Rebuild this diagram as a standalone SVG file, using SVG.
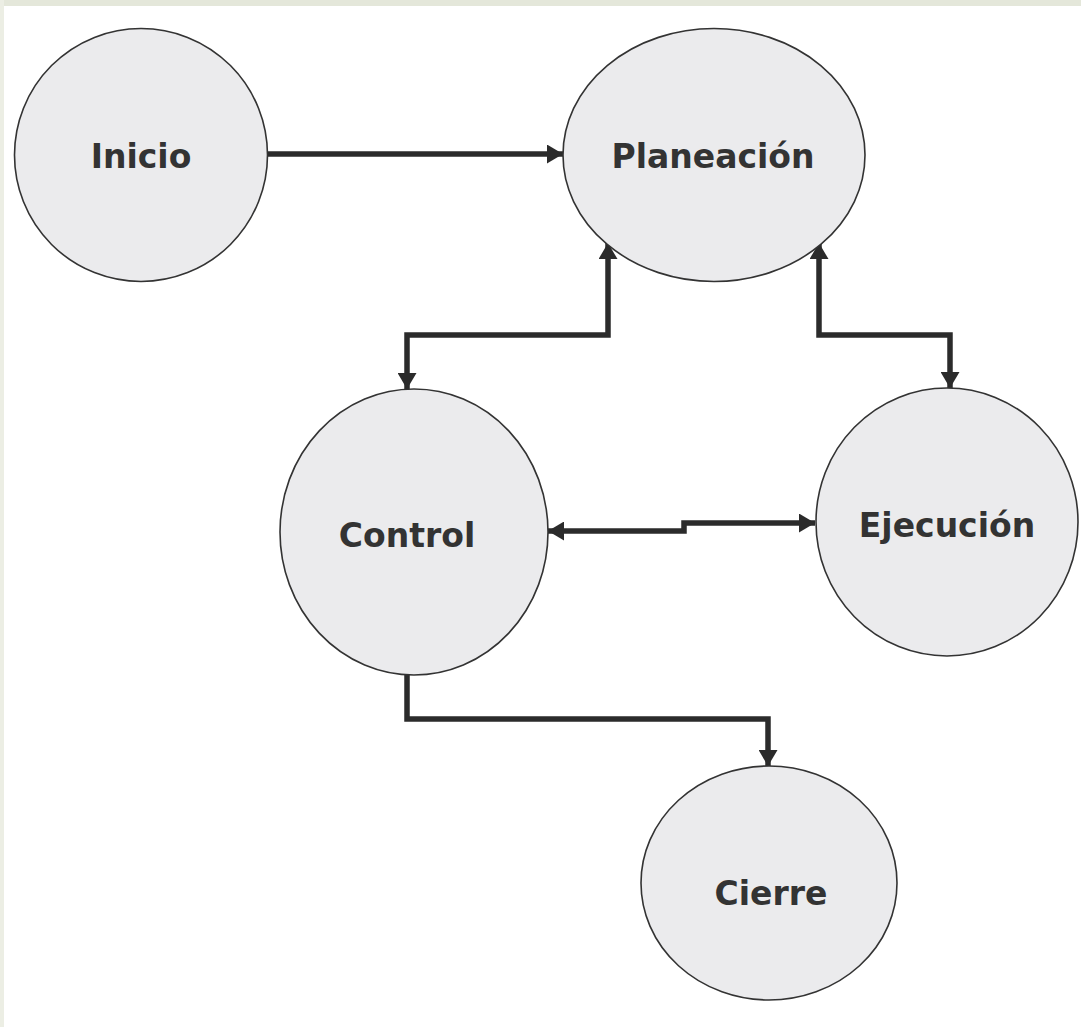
<svg xmlns="http://www.w3.org/2000/svg" width="1081" height="1027" viewBox="0 0 1081 1027">
<defs>
<style>
.node{fill:#ebebed;stroke:#333;stroke-width:1.6}
.lbl{font-family:"DejaVu Sans",Verdana,sans-serif;font-weight:bold;font-size:33px;fill:#333;text-anchor:middle}
.con{fill:none;stroke:#2b2b2b;stroke-width:5.5;stroke-linejoin:miter;stroke-linecap:butt}
</style>
<marker id="ah" viewBox="0 0 16 19" refX="16" refY="9.5" markerWidth="16" markerHeight="19" markerUnits="userSpaceOnUse" orient="auto-start-reverse">
<path d="M0,0 L16,9.5 L0,19 Z" fill="#2b2b2b"/>
</marker>
</defs>
<rect x="0" y="0" width="1081" height="1027" fill="#ffffff"/>
<rect x="0" y="0" width="1081" height="6" fill="#e4e7da"/>
<rect x="0" y="0" width="4" height="1027" fill="#eceee4"/>
<g id="connectors">
<path class="con" d="M267,154 H563" marker-end="url(#ah)"/>
<path class="con" d="M608,243 V335 H407 V389" marker-start="url(#ah)" marker-end="url(#ah)"/>
<path class="con" d="M819,243 V335 H950 V388" marker-start="url(#ah)" marker-end="url(#ah)"/>
<path class="con" d="M548,531 H684 V523 H815" marker-start="url(#ah)" marker-end="url(#ah)"/>
<path class="con" d="M407,675 V719 H768 V766" marker-end="url(#ah)"/>
</g>
<g id="inicio">
<ellipse class="node" cx="141" cy="155" rx="126.5" ry="126.5"/>
<text class="lbl" x="141" y="168">Inicio</text>
</g>
<g id="planeacion">
<ellipse class="node" cx="714" cy="155" rx="151" ry="126.5"/>
<text class="lbl" x="713" y="168">Planeación</text>
</g>
<g id="control">
<ellipse class="node" cx="414" cy="532" rx="134" ry="143"/>
<text class="lbl" x="407" y="547">Control</text>
</g>
<g id="ejecucion">
<ellipse class="node" cx="947" cy="522" rx="131" ry="134"/>
<text class="lbl" x="947" y="537">Ejecución</text>
</g>
<g id="cierre">
<ellipse class="node" cx="769" cy="883" rx="128" ry="117"/>
<text class="lbl" x="771" y="905">Cierre</text>
</g>
</svg>
